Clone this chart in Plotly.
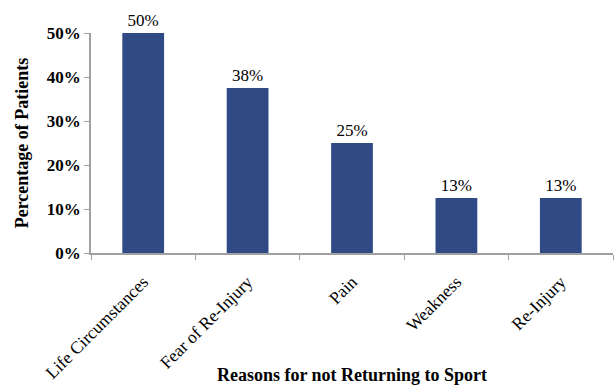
import plotly.graph_objects as go

categories = ["Life Circumstances", "Fear of Re-Injury", "Pain", "Weakness", "Re-Injury"]
values = [50, 37.5, 25, 12.5, 12.5]
labels = ["50%", "38%", "25%", "13%", "13%"]
y_ticks = [0, 10, 20, 30, 40, 50]
y_tick_text = ["0%", "10%", "20%", "30%", "40%", "50%"]

serif = "Liberation Serif, Times New Roman, serif"

fig = go.Figure(go.Bar(
    x=categories, y=values, text=labels, textposition="outside",
    textfont=dict(family=serif, size=17, color="black"),
    marker=dict(color="#2F4A85", line=dict(width=0)),
    width=0.4, cliponaxis=False,
))

fig.update_layout(
    width=614, height=385,
    margin=dict(l=91, r=1, t=33, b=132),
    plot_bgcolor="white", paper_bgcolor="white",
    showlegend=False,
    xaxis=dict(
        tickangle=-45, tickson="boundaries", ticks="outside", ticklen=5,
        tickcolor="#A0A0A0", showline=True, linecolor="#A0A0A0", linewidth=1.5,
        showgrid=False, ticklabelstandoff=10, automargin=False,
        tickfont=dict(family=serif, size=17.5, color="black"),
        title=dict(text="<b>Reasons for not Returning to Sport</b>",
                   font=dict(family=serif, size=18, color="black"), standoff=0),
    ),
    yaxis=dict(
        range=[0, 50], tickvals=y_ticks, ticktext=y_tick_text,
        ticks="outside", ticklen=5, tickcolor="#A0A0A0",
        showline=True, linecolor="#A0A0A0", linewidth=1.5, showgrid=False,
        zeroline=False, automargin=False,
        tickfont=dict(family=serif, size=17, color="black", weight="bold"),
        title=dict(text="<b>Percentage of Patients</b>",
                   font=dict(family=serif, size=18, color="black"), standoff=14),
    ),
)

fig.write_html("out.html")
